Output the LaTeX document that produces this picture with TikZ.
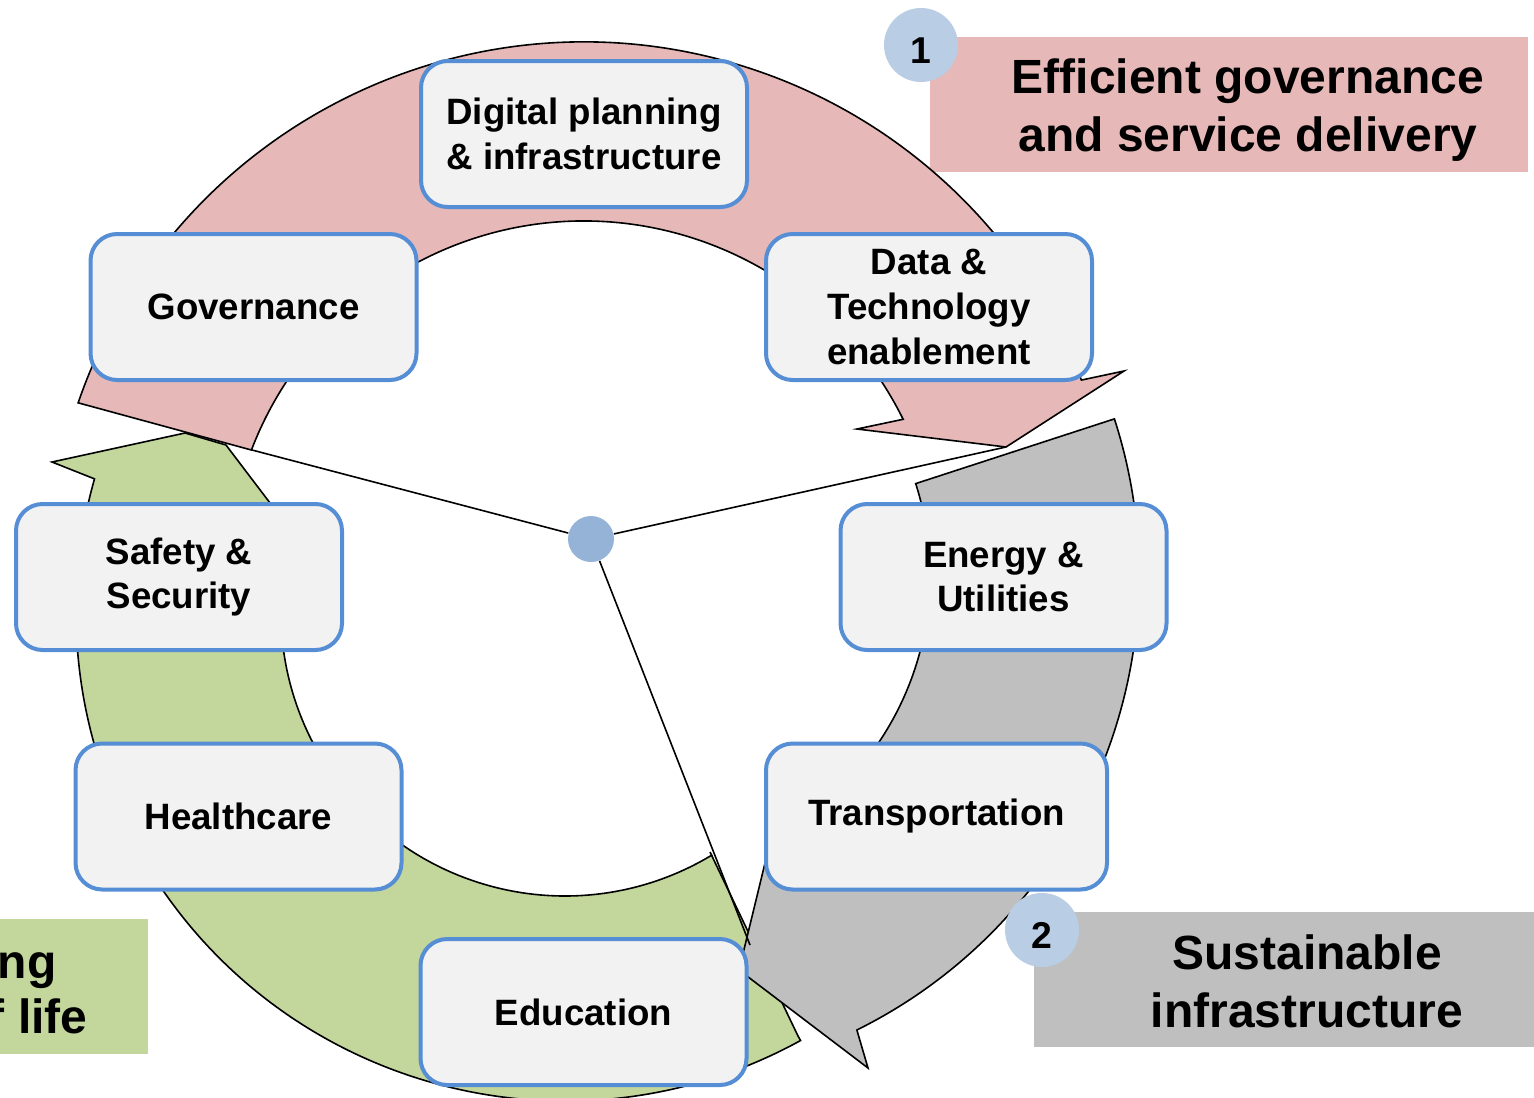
\documentclass[tikz,border=0pt]{standalone}
\usepackage{fontspec}
\setmainfont{Liberation Sans}
\usetikzlibrary{calc}

\definecolor{arcpink}{HTML}{E6B9B8}
\definecolor{arcgray}{HTML}{BFBFBF}
\definecolor{arcgreen}{HTML}{C3D69B}
\definecolor{boxfill}{HTML}{F2F2F2}
\definecolor{boxline}{HTML}{558ED5}
\definecolor{badgefill}{HTML}{B9CDE5}
\definecolor{hubfill}{HTML}{95B3D7}

\tikzset{every picture/.style={line width=0.75pt}}
\tikzset{
  ringline/.style={draw=black, line width=1.2pt},
  stagebox/.style={draw=boxline, line width=3pt, fill=boxfill, rounded corners=20pt,
    minimum width=244.5pt, minimum height=109.5pt, inner sep=0pt, align=center,
    font=\fontsize{27.5}{33.4}\selectfont\bfseries},
  banner/.style={fill=#1, draw=none, inner sep=0pt, minimum height=101.25pt},
  bannertext/.style={inner sep=0pt, align=center, font=\fontsize{36}{43.5}\selectfont\bfseries},
  badge/.style={circle, fill=badgefill, draw=none, minimum size=55.5pt, inner sep=0pt,
    text height=27pt, text depth=0pt, font=\fontsize{28}{30}\selectfont\bfseries},
  hubdot/.style={circle, fill=hubfill, draw=none, minimum size=34.5pt, inner sep=0pt}
}

\begin{document}
\begin{tikzpicture}[x=0.75pt,y=0.75pt,yscale=-1]
	\useasboundingbox (0,0) rectangle (1534,1097);
	\clip (0,0) rectangle (1534,1097);

	% Banners
	\node[banner=arcpink, minimum width=448.5pt] (goalA) at (1229,104.5) {};
	\node[banner=arcgray, minimum width=375pt] (goalB) at (1284,979.5) {};
	\node[banner=arcgreen, minimum width=118.5pt] (goalC) at (69,986.5) {};
	\node[bannertext] (goalAtext) at (1248,110) {Efficient governance\\and service delivery};
	\node[bannertext] (goalBtext) at (1307,981) {Sustainable\\infrastructure};
	\node[bannertext, anchor=base east] (goalCtop) at (57,978) {ng};
	\node[bannertext, anchor=base east] (goalCbot) at (88,1033) {f life};

	%Shape: Block Arc [id:green]
	\coordinate (gc) at (565,612);
	\draw[ringline, fill=arcgreen] (798,1036) -- ($(gc)+(61.2:489)$)
		arc[start angle=61.2, end angle=195.8, radius=489] -- (52,462) -- (185,433) -- (226,445)
		-- (308,553) -- ($(gc)+(195:284)$) arc[start angle=195, end angle=58.9, radius=284]
		-- (710,852) -- cycle;
	%Shape: Block Arc [id:pink]
	\coordinate (pc) at (584,577);
	\draw[ringline, fill=arcpink] ($(pc)+(199:535)$)
		arc[start angle=199, end angle=338.4, radius=535] -- (1124,371) -- (1006,447) -- (857,429)
		-- ($(pc)+(333.7:356)$) arc[start angle=333.7, end angle=200.9, radius=356] -- cycle;
	%Shape: Block Arc [id:gray]
	\coordinate (sc) at (631,575);
	\draw[ringline, fill=arcgray] ($(sc)+(-17.9:508)$)
		arc[start angle=-17.9, end angle=63.6, radius=508] -- (868,1068) -- (739,970) -- (784,785)
		-- ($(sc)+(58:299)$) arc[start angle=58, end angle=-17.8, radius=299] -- cycle;

	% Hub and spokes
	\node[hubdot] (hub) at (591,539) {};
	\coordinate (spokeA) at (252,450);
	\coordinate (spokeB) at (1006,447);
	\coordinate (spokeC) at (750,945);
	\draw[line width=1.2pt] (hub) -- (spokeA);
	\draw[line width=1.2pt] (hub) -- (spokeB);
	\draw[line width=1.2pt] (hub) -- (spokeC);

	% Text Node
	\node[stagebox] (digital) at (584,134) {Digital planning\\\& infrastructure};
	\node[stagebox] (governance) at (253.5,307) {Governance};
	\node[stagebox] (data) at (929,307) {Data \&\\Technology\\enablement};
	\node[stagebox] (safety) at (179,577) {Safety \&\\Security};
	\node[stagebox] (energy) at (1003.5,577) {Energy \&\\Utilities};
	\node[stagebox] (health) at (238.5,816.5) {Healthcare};
	\node[stagebox, minimum width=255.75pt] (transport) at (936.5,816.5) {Transportation};
	\node[stagebox] (education) at (583.5,1012) {Education};

	% Badges
	\node[badge] (badgeA) at (921,45) {1};
	\node[badge] (badgeB) at (1042,930) {2};
\end{tikzpicture}
\end{document}
